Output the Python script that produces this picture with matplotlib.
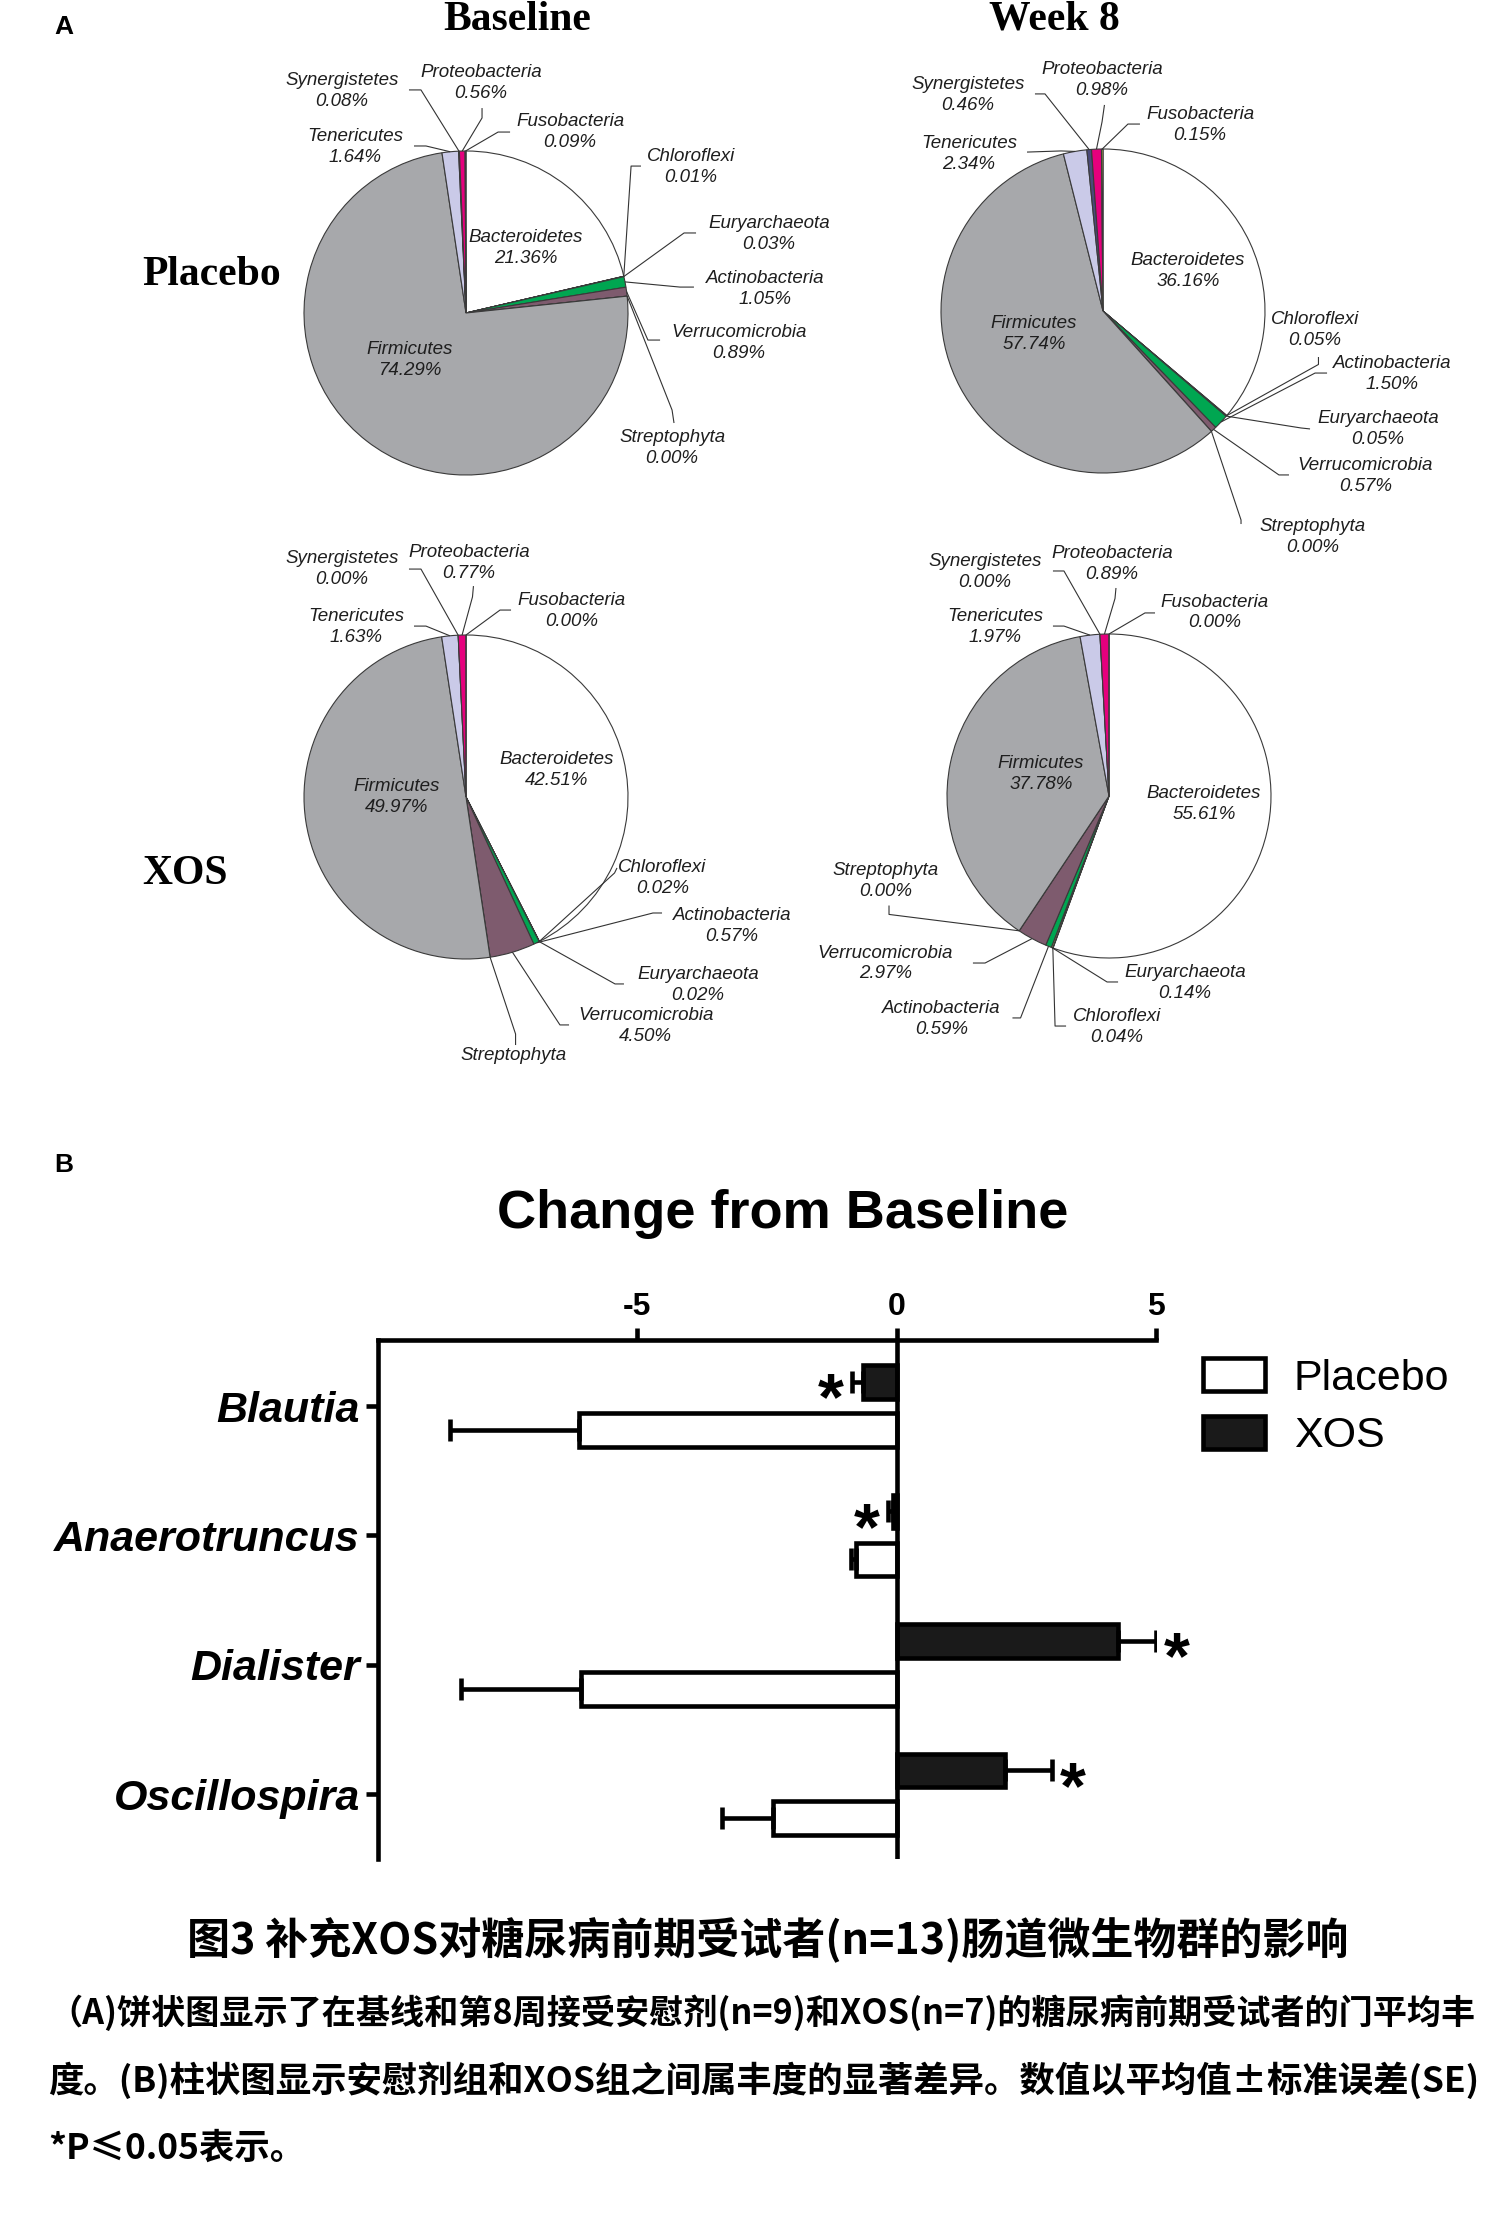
import numpy as np
import matplotlib
matplotlib.use('Agg')
import matplotlib.pyplot as plt

W, H = 1501, 2224

# ---------------- data : panel A ----------------
phyla = ['Bacteroidetes', 'Chloroflexi', 'Euryarchaeota', 'Actinobacteria',
         'Verrucomicrobia', 'Streptophyta', 'Firmicutes', 'Tenericutes',
         'Synergistetes', 'Proteobacteria', 'Fusobacteria']

placebo_base = [21.36, 0.01, 0.03, 1.05, 0.89, 0.00, 74.29, 1.64, 0.08, 0.56, 0.09]
placebo_wk8 = [36.16, 0.05, 0.05, 1.50, 0.57, 0.00, 57.74, 2.34, 0.46, 0.98, 0.15]
xos_base = [42.51, 0.02, 0.02, 0.57, 4.50, 0.00, 49.97, 1.63, 0.00, 0.77, 0.00]
xos_wk8 = [55.61, 0.04, 0.14, 0.59, 2.97, 0.00, 37.78, 1.97, 0.00, 0.89, 0.00]
xos_base_no_pct = ['Streptophyta']

phylum_colors = ['#FFFFFF', '#8FB8E0', '#F2E36B', '#00A651', '#7E5B6E', '#993366',
                 '#A7A8AB', '#CACAE8', '#4A4A7A', '#E5007D', '#D4D44A']

# ---------------- data : panel B ----------------
genera = ['Blautia', 'Anaerotruncus', 'Dialister', 'Oscillospira']
placebo_mean = [-6.13, -0.78, -6.08, -2.38]
placebo_se = [2.49, 0.11, 2.32, 0.99]
xos_mean = [-0.65, -0.08, 4.27, 2.08]
xos_se = [0.22, 0.09, 0.73, 0.92]
x_ticks = [-5, 0, 5]

# ---------------- label layout (pie radius units) ----------------
# name: (text x, text y, tail, elbow)  -- tail/elbow None for labels inside
lay_pb = {
    'Bacteroidetes': (0.370, 0.401, None, None),
    'Chloroflexi': (1.389, 0.901, (1.080, 0.907), (1.019, 0.907)),
    'Euryarchaeota': (1.870, 0.488, (1.420, 0.494), (1.346, 0.494)),
    'Actinobacteria': (1.846, 0.148, (1.407, 0.160), (1.321, 0.160)),
    'Verrucomicrobia': (1.685, -0.185, (1.198, -0.167), (1.123, -0.167)),
    'Streptophyta': (1.272, -0.833, (1.284, -0.679), (1.272, -0.599)),
    'Firmicutes': (-0.346, -0.290, None, None),
    'Tenericutes': (-0.685, 1.025, (-0.321, 1.031), (-0.247, 1.031)),
    'Synergistetes': (-0.765, 1.370, (-0.352, 1.377), (-0.278, 1.377)),
    'Proteobacteria': (0.093, 1.420, (0.099, 1.265), (0.099, 1.204)),
    'Fusobacteria': (0.642, 1.117, (0.272, 1.117), (0.198, 1.117)),
}
lay_pw = {
    'Bacteroidetes': (0.525, 0.247, None, None),
    'Chloroflexi': (1.309, -0.117, (1.330, -0.284), (1.330, -0.330)),
    'Actinobacteria': (1.784, -0.389, (1.383, -0.383), (1.309, -0.383)),
    'Euryarchaeota': (1.698, -0.728, (1.278, -0.728), (1.222, -0.722)),
    'Verrucomicrobia': (1.620, -1.018, (1.148, -1.012), (1.086, -1.012)),
    'Streptophyta': (1.296, -1.395, (0.852, -1.315), (0.852, -1.290)),
    'Firmicutes': (-0.426, -0.142, None, None),
    'Tenericutes': (-0.827, 0.969, (-0.469, 0.981), (-0.259, 0.988)),
    'Synergistetes': (-0.833, 1.333, (-0.420, 1.340), (-0.358, 1.340)),
    'Proteobacteria': (-0.006, 1.426, (0.009, 1.272), (-0.006, 1.167)),
    'Fusobacteria': (0.599, 1.148, (0.228, 1.154), (0.154, 1.154)),
}
lay_xb = {
    'Bacteroidetes': (0.562, 0.167, None, None),
    'Firmicutes': (-0.426, 0.0, None, None),
    'Chloroflexi': (1.212, -0.500, (0.932, -0.438), (0.917, -0.469)),
    'Actinobacteria': (1.642, -0.796, (1.210, -0.716), (1.154, -0.716)),
    'Euryarchaeota': (1.432, -1.160, (0.975, -1.154), (0.920, -1.154)),
    'Verrucomicrobia': (1.110, -1.414, (0.636, -1.407), (0.580, -1.407)),
    'Streptophyta': (0.296, -1.596, (0.306, -1.531), (0.306, -1.463)),
    'Tenericutes': (-0.679, 1.049, (-0.321, 1.055), (-0.247, 1.055)),
    'Synergistetes': (-0.765, 1.407, (-0.352, 1.407), (-0.278, 1.407)),
    'Proteobacteria': (0.018, 1.444, (0.046, 1.302), (0.040, 1.235)),
    'Fusobacteria': (0.654, 1.148, (0.278, 1.154), (0.210, 1.154)),
}
lay_xw = {
    'Bacteroidetes': (0.586, -0.049, None, None),
    'Firmicutes': (-0.420, 0.136, None, None),
    'Chloroflexi': (0.049, -1.426, (-0.265, -1.420), (-0.333, -1.420)),
    'Euryarchaeota': (0.469, -1.154, (0.056, -1.148), (-0.012, -1.148)),
    'Actinobacteria': (-1.033, -1.377, (-0.596, -1.370), (-0.546, -1.370)),
    'Verrucomicrobia': (-1.380, -1.034, (-0.840, -1.031), (-0.765, -1.031)),
    'Streptophyta': (-1.380, -0.525, (-1.358, -0.676), (-1.358, -0.731)),
    'Tenericutes': (-0.704, 1.043, (-0.346, 1.049), (-0.278, 1.049)),
    'Synergistetes': (-0.765, 1.383, (-0.346, 1.389), (-0.278, 1.389)),
    'Proteobacteria': (0.019, 1.432, (0.043, 1.284), (0.037, 1.219)),
    'Fusobacteria': (0.654, 1.133, (0.284, 1.130), (0.222, 1.130)),
}

R = 162.  # pie radius in pixels
L = 2.5   # axes half-width in radius units

fig = plt.figure(figsize=(W / 100., H / 100.), dpi=100)

def fx(px):
    return px / W

def fy(py):
    return 1 - py / H

cjk = ['Noto Sans CJK SC', 'DejaVu Sans']
label_font = dict(family='Liberation Sans', style='italic', fontsize=13.5, color='#1e1e1e')


def draw_pie(cx, cy, values, layout, no_pct=()):
    ax = fig.add_axes([fx(cx - L * R), fy(cy + L * R), 2 * L * R / W, 2 * L * R / H])
    wedges, _ = ax.pie(values, colors=phylum_colors, startangle=90, counterclock=False,
                       radius=1., wedgeprops=dict(edgecolor='#3a3a3a', linewidth=0.8))
    ax.set_xlim(-L, L)
    ax.set_ylim(-L, L)
    ax.set_aspect('equal')
    ax.axis('off')
    ax.patch.set_alpha(0)
    for name, val, w in zip(phyla, values, wedges):
        tx, ty, tail, elbow = layout[name]
        txt = name if name in no_pct else '%s\n%.2f%%' % (name, val)
        ax.text(tx, ty, txt, ha='center', va='center', linespacing=1.25, **label_font)
        if tail is not None:
            a = np.deg2rad((w.theta1 + w.theta2) / 2.)
            ex, ey = np.cos(a), np.sin(a)
            ax.plot([tail[0], elbow[0], ex], [tail[1], elbow[1], ey],
                    color='#333333', lw=0.8, solid_capstyle='butt')
    return ax


# ---------------- panel A ----------------
fig.text(fx(64), fy(27), 'A', ha='center', va='center', family='Liberation Sans',
         weight='bold', fontsize=19)
serif = dict(family='Liberation Serif', weight='bold', fontsize=30, ha='center', va='center')
fig.text(fx(517), fy(20), 'Baseline', **serif)
fig.text(fx(1054), fy(19), 'Week 8', **serif)
fig.text(fx(212), fy(275), 'Placebo', **serif)
fig.text(fx(185), fy(874), 'XOS', **serif)

draw_pie(466, 313, placebo_base, lay_pb)
draw_pie(1103, 311, placebo_wk8, lay_pw)
draw_pie(466, 797, xos_base, lay_xb, xos_base_no_pct)
draw_pie(1109, 796, xos_wk8, lay_xw)

# ---------------- panel B ----------------
fig.text(fx(64), fy(1165), 'B', ha='center', va='center', family='Liberation Sans',
         weight='bold', fontsize=19)
fig.text(fx(783), fy(1214), 'Change from Baseline', ha='center', va='center',
         family='Liberation Sans', weight='bold', fontsize=39)

axb = fig.add_axes([fx(378), fy(1859), (1156 - 378) / W, (1859 - 1340) / H])
lw = 3.3
y = np.arange(len(genera))
off, bh = 0.185, 0.26

def one_side(mean, se):
    lo = [s if m < 0 else 0 for m, s in zip(mean, se)]
    hi = [s if m > 0 else 0 for m, s in zip(mean, se)]
    return [lo, hi]

ekw = dict(ecolor='black', elinewidth=lw, capsize=8, capthick=lw)
bars_p = axb.barh(y + off, placebo_mean, height=bh, color='white', edgecolor='black',
                  linewidth=lw, xerr=one_side(placebo_mean, placebo_se), error_kw=ekw,
                  label='Placebo')
bars_x = axb.barh(y - off, xos_mean, height=bh, color='#1a1a1a', edgecolor='black',
                  linewidth=lw, xerr=one_side(xos_mean, xos_se), error_kw=ekw,
                  label='XOS')

for yi, m, s in zip(y, xos_mean, xos_se):
    sg = 1 if m > 0 else -1
    axb.annotate('*', xy=(m + sg * s, yi - off), xytext=(sg * 15, -27),
                 textcoords='offset points', ha='center', va='baseline',
                 family='Liberation Sans', weight='bold', fontsize=48)

axb.axvline(0, color='black', lw=lw)
axb.set_xlim(-10, 5)
axb.set_ylim(3.5, -0.51)
axb.xaxis.tick_top()
axb.set_xticks(x_ticks)
axb.set_xticklabels([str(t) for t in x_ticks])
axb.set_yticks(y)
axb.set_yticklabels(genera)
for sp in ['right', 'bottom']:
    axb.spines[sp].set_visible(False)
for sp in ['top', 'left']:
    axb.spines[sp].set_linewidth(lw)
axb.tick_params(axis='x', direction='out', length=9, width=lw, pad=4, labelsize=23)
axb.tick_params(axis='y', direction='out', length=9, width=lw, pad=4, labelsize=31)
for t in axb.get_xticklabels():
    t.set_fontweight('bold')
    t.set_family('Liberation Sans')
for t in axb.get_yticklabels():
    t.set_fontweight('bold')
    t.set_fontstyle('italic')
    t.set_family('Liberation Sans')

axb.legend(handles=[bars_p, bars_x], labels=['Placebo', 'XOS'], loc='upper left',
           bbox_to_anchor=(fx(1203), fy(1358)), bbox_transform=fig.transFigure,
           frameon=False, prop=dict(family='Liberation Sans', size=31),
           handlelength=1.44, handleheight=0.81, handletextpad=0.67,
           labelspacing=0.4, borderpad=0, borderaxespad=0)

# ---------------- caption ----------------
fig.text(fx(768), fy(1940), '图3 补充XOS对糖尿病前期受试者(n=13)肠道微生物群的影响',
         ha='center', va='center', family=cjk, weight='bold', fontsize=31)
cap = ['（A)饼状图显示了在基线和第8周接受安慰剂(n=9)和XOS(n=7)的糖尿病前期受试者的门平均丰',
       '度。(B)柱状图显示安慰剂组和XOS组之间属丰度的显著差异。数值以平均值±标准误差(SE)',
       '*P≤0.05表示。']
cap_size = [24.6, 25.5, 25.5]
for txt, yy, fs in zip(cap, [2013, 2080, 2148], cap_size):
    fig.text(fx(48), fy(yy), txt, ha='left', va='center', family=cjk, weight='bold',
             fontsize=fs)

fig.savefig('out.png', dpi=100)
